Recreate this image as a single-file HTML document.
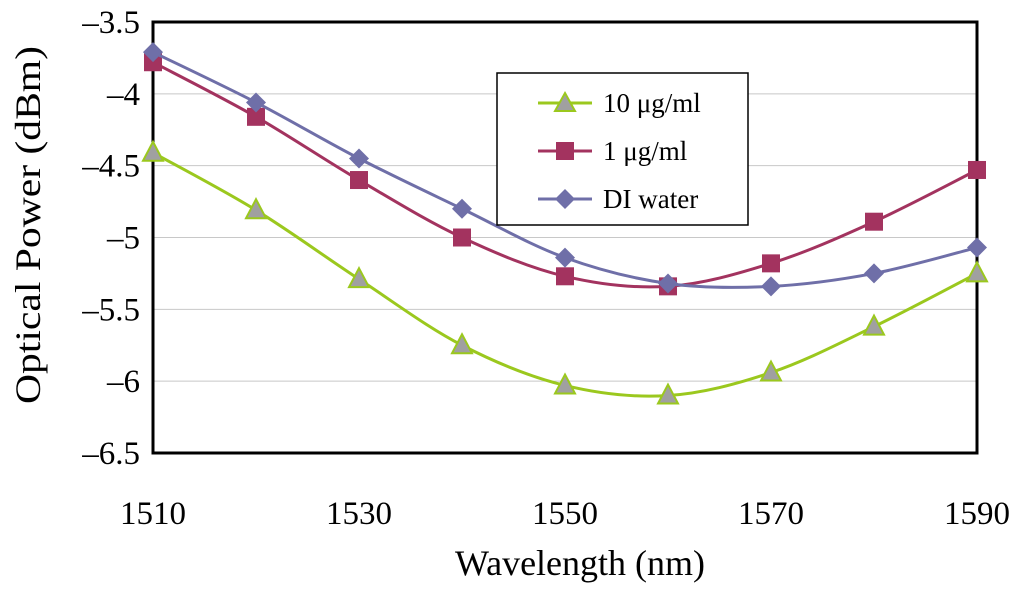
<!DOCTYPE html>
<html><head><meta charset="utf-8"><style>
html,body{margin:0;padding:0;background:#fff;}
svg{display:block;font-family:"Liberation Serif",serif;}
</style></head><body>
<svg id="chart" width="1024" height="593" viewBox="0 0 1024 593">
<g id="grid"></g>
<rect x="153" y="22" width="824" height="431" fill="none" stroke="#000" stroke-width="3"/>
<g id="yticks"></g>
<g id="xticks"></g>
<g id="series"></g>
<text x="580" y="575" font-size="36" text-anchor="middle" textLength="250" lengthAdjust="spacingAndGlyphs">Wavelength (nm)</text>
<text transform="translate(40,225) rotate(-90)" font-size="36" text-anchor="middle" textLength="358" lengthAdjust="spacingAndGlyphs">Optical Power (dBm)</text>
<g>
<rect x="497" y="73" width="251" height="152" fill="#fff" stroke="#000" stroke-width="1.5"/>
<g><line x1="538" y1="103" x2="592" y2="103" stroke="#9bc81e" stroke-width="3"/><polygon points="565,93 575,111 555,111" fill="#a0a0a0" stroke="#9bc81e" stroke-width="2"/><text x="603" y="112" font-size="27">10 μg/ml</text></g>
<g><line x1="538" y1="151" x2="592" y2="151" stroke="#a3335f" stroke-width="3"/><rect x="556" y="142" width="18" height="18" fill="#a3335f"/><text x="603" y="160" font-size="27">1 μg/ml</text></g>
<g><line x1="538" y1="199" x2="592" y2="199" stroke="#6f6fa8" stroke-width="3"/><polygon points="565,189 575,199 565,209 555,199" fill="#6f6fa8"/><text x="603" y="208" font-size="27">DI water</text></g>
</g>
</svg>
<script>
const wavelengths=[1510,1520,1530,1540,1550,1560,1570,1580,1590];
const s10=[-4.41,-4.81,-5.29,-5.75,-6.03,-6.10,-5.94,-5.62,-5.25];
const s1=[-3.78,-4.16,-4.60,-5.00,-5.27,-5.34,-5.18,-4.89,-4.53];
const sDI=[-3.71,-4.06,-4.45,-4.80,-5.14,-5.32,-5.34,-5.25,-5.07];
const yTicks=[-3.5,-4,-4.5,-5,-5.5,-6,-6.5];
const xTicks=[1510,1530,1550,1570,1590];
const NS="http://www.w3.org/2000/svg";
const X=v=>153+(v-1510)/80*824;
const Y=v=>22+(-3.5-v)/3*431;
function mk(t,a,p){const e=document.createElementNS(NS,t);for(const k in a)e.setAttribute(k,a[k]);p.appendChild(e);return e;}
const grid=document.getElementById('grid'),yt=document.getElementById('yticks'),xt=document.getElementById('xticks'),sg=document.getElementById('series');
yTicks.forEach(v=>{
  const l=mk('line',{x1:153,x2:977,y1:Y(v),y2:Y(v),stroke:'#c8c8c8','stroke-width':1},grid);
  
  
  const t=mk('text',{x:140,y:Y(v)+11,'font-size':33,'text-anchor':'end'},yt);
  
  
  t.textContent=String(v).replace('-','\u2013');
});
xTicks.forEach(v=>{
  const t=mk('text',{x:X(v),y:524,'font-size':33,'text-anchor':'middle'},xt);
  
  
  t.textContent=v;
});
function smooth(pts){let d='M'+pts[0][0]+','+pts[0][1];for(let i=0;i<pts.length-1;i++){const p0=pts[Math.max(0,i-1)],p1=pts[i],p2=pts[i+1],p3=pts[Math.min(pts.length-1,i+2)];const c1=[p1[0]+(p2[0]-p0[0])/6,p1[1]+(p2[1]-p0[1])/6],c2=[p2[0]-(p3[0]-p1[0])/6,p2[1]-(p3[1]-p1[1])/6];d+=' C'+c1+' '+c2+' '+p2;}return d;}
function series(vals,color,fill,shape,name){
  const pts=wavelengths.map((w,i)=>[X(w),Y(vals[i])]);
  const p=mk('path',{d:smooth(pts),fill:'none',stroke:color,'stroke-width':3},sg);
  
  
  pts.forEach(([x,y])=>{
    let m;
    if(shape==='tri')m=mk('polygon',{points:`${x},${y-11} ${x+10},${y+8} ${x-10},${y+8}`,fill:fill,stroke:color,'stroke-width':2},sg);
    else if(shape==='sq')m=mk('rect',{x:x-9,y:y-9,width:18,height:18,fill:fill},sg);
    else m=mk('polygon',{points:`${x},${y-10} ${x+10},${y} ${x},${y+10} ${x-10},${y}`,fill:fill},sg);
    
    
  });
}
series(s10,'#9bc81e','#a0a0a0','tri','series-10ugml');
series(s1,'#a3335f','#a3335f','sq','series-1ugml');
series(sDI,'#6f6fa8','#6f6fa8','dia','series-di-water');
</script>
</body></html>
